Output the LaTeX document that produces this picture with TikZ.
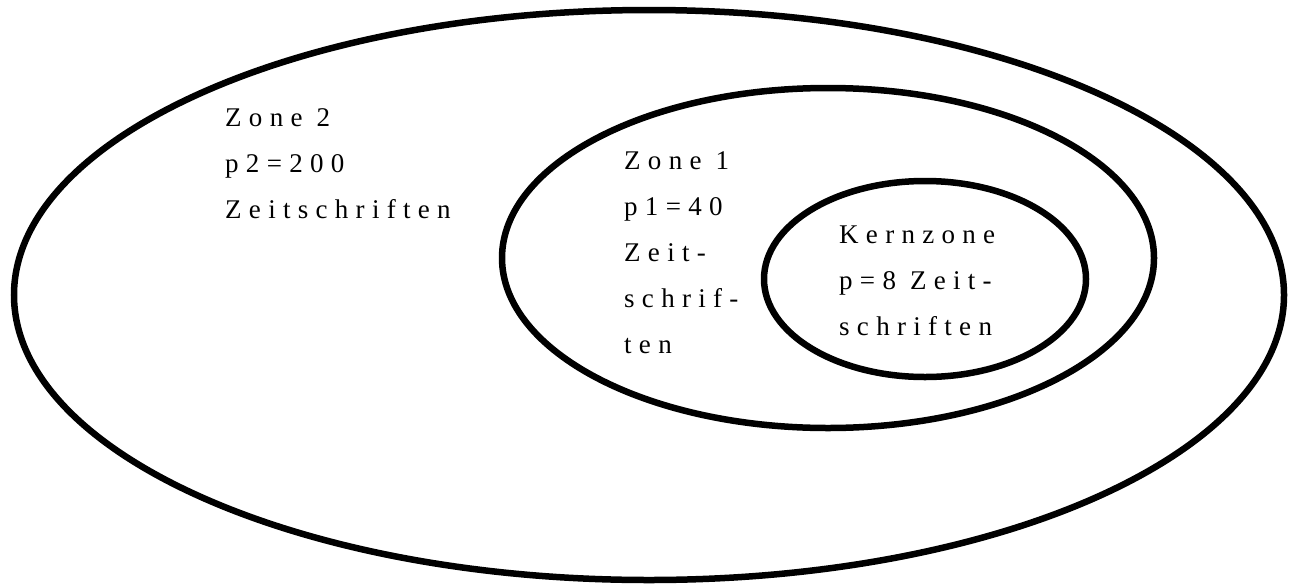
\documentclass[tikz,border=0pt]{standalone}
\usepackage{fontspec}
\setmainfont{Liberation Serif}
\newfontfamily\spacedserif{Liberation Serif}[LetterSpace=27]
\begin{document}
\begin{tikzpicture}[x=1pt,y=-1pt,
  zone/.style={draw=black,line width=6.5pt},
  zonetext/.style={anchor=north west,inner sep=0pt,align=left,
    font=\spacedserif\fontsize{27}{46}\selectfont}]
  \useasboundingbox (0,0) rectangle (1292,584);
  % nested zones: outer, middle, core
  \draw[zone] (649,295) ellipse [x radius=635, y radius=285];
  \draw[zone] (828,258) ellipse [x radius=326, y radius=170];
  \draw[zone] (925,279) ellipse [x radius=161, y radius=98];
  % zone labels
  \node[zonetext] (z2) at (225,108.7) {Zone 2\\p2=200\\Zeitschriften};
  \node[zonetext] (z1) at (624,151.7) {Zone 1\\p1=40\\Zeit-\\schrif-\\ten};
  \node[zonetext] (kz) at (839,226) {Kernzone\\p=8 Zeit-\\schriften};
\end{tikzpicture}
\end{document}
